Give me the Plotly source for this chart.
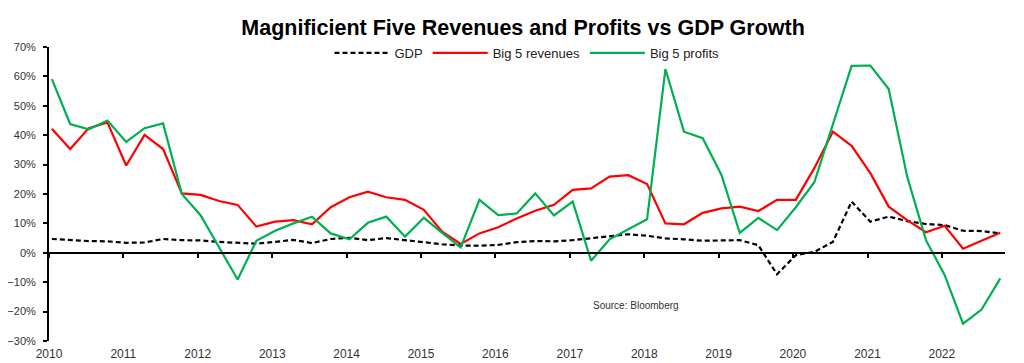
import plotly.graph_objects as go

# Quarterly observations 2010Q1 .. 2022Q4 (year-over-year growth, %)
years = list(range(2010, 2023))
quarter_months = ["01", "04", "07", "10"]
dates = [f"{y}-{m}-15" for y in years for m in quarter_months]

gdp = [4.7, 4.3, 4.0, 3.9, 3.4, 3.5, 4.7, 4.3,
       4.2, 3.7, 3.5, 3.1, 3.7, 4.4, 3.3, 4.7,
       5.1, 4.3, 5.0, 4.3, 3.4, 2.9, 2.5, 2.4,
       2.7, 3.6, 4.0, 3.9, 4.3, 5.0, 5.5, 6.3,
       5.8, 4.9, 4.6, 4.1, 4.2, 4.3, 2.6, -7.3,
       -0.8, 0.3, 3.7, 17.4, 10.6, 12.3, 10.8, 9.8,
       9.4, 7.5, 7.4, 6.6]

revenues = [42.2, 35.3, 42.4, 44.3, 29.7, 40.1, 35.3, 20.2,
            19.7, 17.6, 16.3, 8.9, 10.6, 11.1, 9.7, 15.5,
            18.9, 20.8, 18.9, 18.0, 14.6, 7.2, 3.0, 6.6,
            8.7, 11.7, 14.3, 16.3, 21.4, 21.9, 25.9, 26.4,
            23.4, 10.0, 9.7, 13.6, 15.1, 15.7, 14.2, 18.0,
            18.0, 28.8, 41.2, 36.4, 27.1, 15.7, 11.1, 7.0,
            9.2, 1.4, 4.1, 6.8]

profits = [59.1, 43.8, 42.0, 45.0, 37.7, 42.4, 44.0, 20.0,
           12.8, 1.8, -9.1, 4.1, 7.5, 10.0, 12.3, 6.6,
           4.6, 10.2, 12.3, 5.5, 11.9, 6.8, 1.8, 18.0,
           12.8, 13.4, 20.2, 12.7, 17.4, -2.7, 4.6, 8.0,
           11.4, 62.5, 41.2, 39.0, 26.5, 6.8, 11.9, 7.7,
           15.5, 24.0, 44.0, 63.6, 63.7, 55.7, 25.9, 4.3,
           -7.6, -24.1, -19.3, -8.7]

series_names = ["GDP", "Big 5 revenues", "Big 5 profits"]
title_text = "Magnificient Five Revenues and Profits vs GDP Growth"
source_text = "Source: Bloomberg"

FONT = "Liberation Sans, Arial, sans-serif"
x_range = ["2010-01-01", "2022-11-07"]

# The page body has an 8px margin; the figure is sized to fill the rest of the window.
W, H = 1016, 355

fig = go.Figure()
fig.add_trace(go.Scatter(x=dates, y=gdp, name=series_names[0], mode="lines",
                         line=dict(color="black", width=2.2, dash="5px,3px")))
fig.add_trace(go.Scatter(x=dates, y=revenues, name=series_names[1], mode="lines",
                         line=dict(color="#FF0000", width=2.2)))
fig.add_trace(go.Scatter(x=dates, y=profits, name=series_names[2], mode="lines",
                         line=dict(color="#00B050", width=2.2)))
# helper trace so the zero-line axis (with year ticks) is drawn
fig.add_trace(go.Scatter(x=[dates[0]], y=[0], xaxis="x2", yaxis="y", mode="lines",
                         showlegend=False, hoverinfo="skip",
                         line=dict(color="rgba(0,0,0,0)")))

fig.update_layout(
    width=W, height=H,
    margin=dict(l=41, r=19, t=39, b=22, autoexpand=False),
    paper_bgcolor="white", plot_bgcolor="white",
    font=dict(family=FONT, size=12, color="#333333"),
    title=dict(text=f"<b>{title_text}</b>", x=0.507, xanchor="center",
               y=1 - 19 / H, yanchor="middle", yref="container",
               font=dict(family=FONT, size=21.5, color="black")),
    legend=dict(orientation="h", x=0.5, xanchor="center", y=0.98, yanchor="middle",
                bgcolor="rgba(0,0,0,0)", font=dict(family=FONT, size=13, color="#222222"),
                itemwidth=55, tracegroupgap=0),
    xaxis=dict(type="date", range=x_range, showgrid=False, zeroline=False,
               showline=False, ticks="", tickformat="%Y", dtick="M12",
               tick0="2010-01-01", tickfont=dict(size=12, color="#333333"),
               ticklabelstandoff=4, automargin=False),
    xaxis2=dict(type="date", range=x_range, overlaying="x", anchor="free", position=0.3,
                matches="x", showgrid=False, zeroline=False, showline=True,
                linecolor="black", linewidth=2, ticks="outside", ticklen=4,
                tickwidth=1.5, tickcolor="black", dtick="M12", tick0="2010-01-01",
                showticklabels=False, automargin=False),
    yaxis=dict(range=[-30, 70], dtick=10, ticksuffix="%", showgrid=False,
               zeroline=False, showline=True, linecolor="black", linewidth=2,
               ticks="outside", ticklen=4, tickwidth=1.5, tickcolor="black",
               tickfont=dict(size=11, color="#333333"), ticklabelstandoff=5,
               automargin=False),
    annotations=[dict(text=source_text, xref="paper", yref="paper", x=0.567, y=0.12,
                      xanchor="left", yanchor="middle", showarrow=False,
                      font=dict(family=FONT, size=10, color="#333333"))],
    hovermode=False,
)

fig.write_html("out.html")
